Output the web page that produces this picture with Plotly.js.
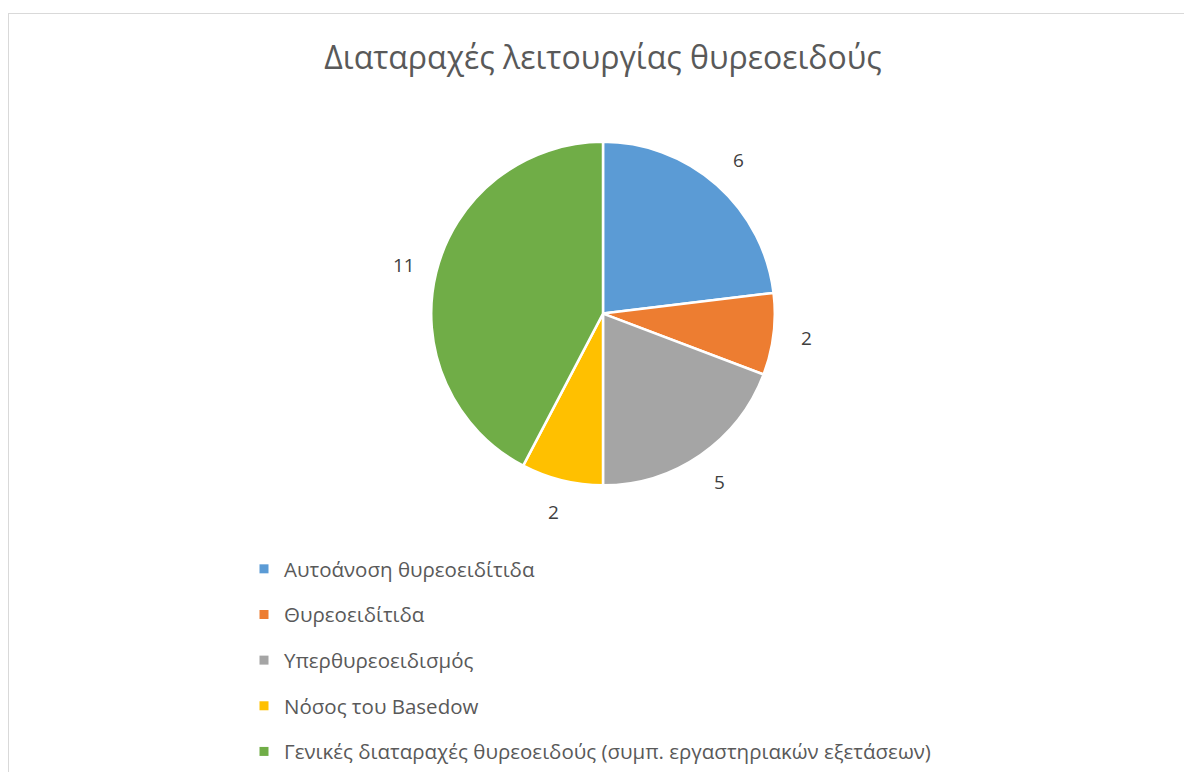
<!DOCTYPE html>
<html>
<head>
<meta charset="utf-8">
<script src="https://cdn.plot.ly/plotly-3.0.1.min.js"></script>
<style>
  html, body { margin: 0; padding: 0; background: #ffffff; }
  #frame { position: absolute; left: 8px; top: 13px; width: 1200px; height: 800px; border: 1px solid #d9d9d9; pointer-events: none; }
  #chart { position: absolute; left: 0; top: 0; width: 1184px; height: 772px; }
</style>
</head>
<body>
<div id="chart"></div>
<div id="frame"></div>
<script>
const categories = [
  "Αυτοάνοση θυρεοειδίτιδα",
  "Θυρεοειδίτιδα",
  "Υπερθυρεοειδισμός",
  "Νόσος του Basedow",
  "Γενικές διαταραχές θυρεοειδούς (συμπ. εργαστηριακών εξετάσεων)"
];
const values = [6, 2, 5, 2, 11];
const colors = ["#5B9BD5", "#ED7D31", "#A5A5A5", "#FFC000", "#70AD47"];
const chartTitle = "Διαταραχές λειτουργίας θυρεοειδούς";

const W = 1184, H = 772;
const cx = 603, cy = 314, R = 172, labelR = 205;
const fontFam = "Open Sans, Noto Sans, sans-serif";

const pie = {
  type: "pie",
  labels: categories,
  values: values,
  sort: false,
  direction: "clockwise",
  rotation: 0,
  marker: { colors: colors, line: { color: "#ffffff", width: 2.5 } },
  textinfo: "none",
  hoverinfo: "label+value",
  showlegend: false,
  domain: { x: [(cx - R) / W, (cx + R) / W], y: [1 - (cy + R) / H, 1 - (cy - R) / H] }
};

// legend entries via dummy traces (one group each for spacing)
const legendTraces = categories.map((c, i) => ({
  type: "scatter",
  mode: "markers",
  x: [null], y: [null],
  name: c,
  legendgroup: "g" + i,
  marker: { symbol: "square", size: 9, color: colors[i] },
  hoverinfo: "skip",
  showlegend: true
}));

// data labels outside the slices, from values
const total = values.reduce((a, b) => a + b, 0);
let cum = 0;
const annotations = values.map((v) => {
  const mid = (cum + v / 2) / total * 2 * Math.PI;
  cum += v;
  const px = cx + labelR * Math.sin(mid);
  const py = cy - labelR * Math.cos(mid);
  return {
    xref: "paper", yref: "paper",
    x: px / W, y: 1 - py / H,
    text: String(v), showarrow: false,
    xanchor: "center", yanchor: "middle",
    font: { family: fontFam, size: 19, color: "#404040" }
  };
});

const layout = {
  width: W, height: H,
  margin: { l: 0, r: 0, t: 0, b: 0 },
  paper_bgcolor: "rgba(0,0,0,0)",
  plot_bgcolor: "rgba(0,0,0,0)",
  title: {
    text: chartTitle,
    x: 603 / W, xanchor: "center",
    y: 1 - 58 / H, yanchor: "middle",
    font: { family: fontFam, size: 32, color: "#595959" }
  },
  xaxis: { visible: false, domain: [0, 0.01], range: [0, 1] },
  yaxis: { visible: false, domain: [0, 0.01], range: [0, 1] },
  showlegend: true,
  legend: {
    x: 244 / W, xanchor: "left",
    y: 1 - 550 / H, yanchor: "top",
    orientation: "v",
    tracegroupgap: 16,
    font: { family: fontFam, size: 20.5, color: "#595959" },
    bgcolor: "rgba(0,0,0,0)"
  },
  annotations: annotations
};

Plotly.newPlot("chart", [pie].concat(legendTraces), layout, { displayModeBar: false, responsive: false });
</script>
</body>
</html>
